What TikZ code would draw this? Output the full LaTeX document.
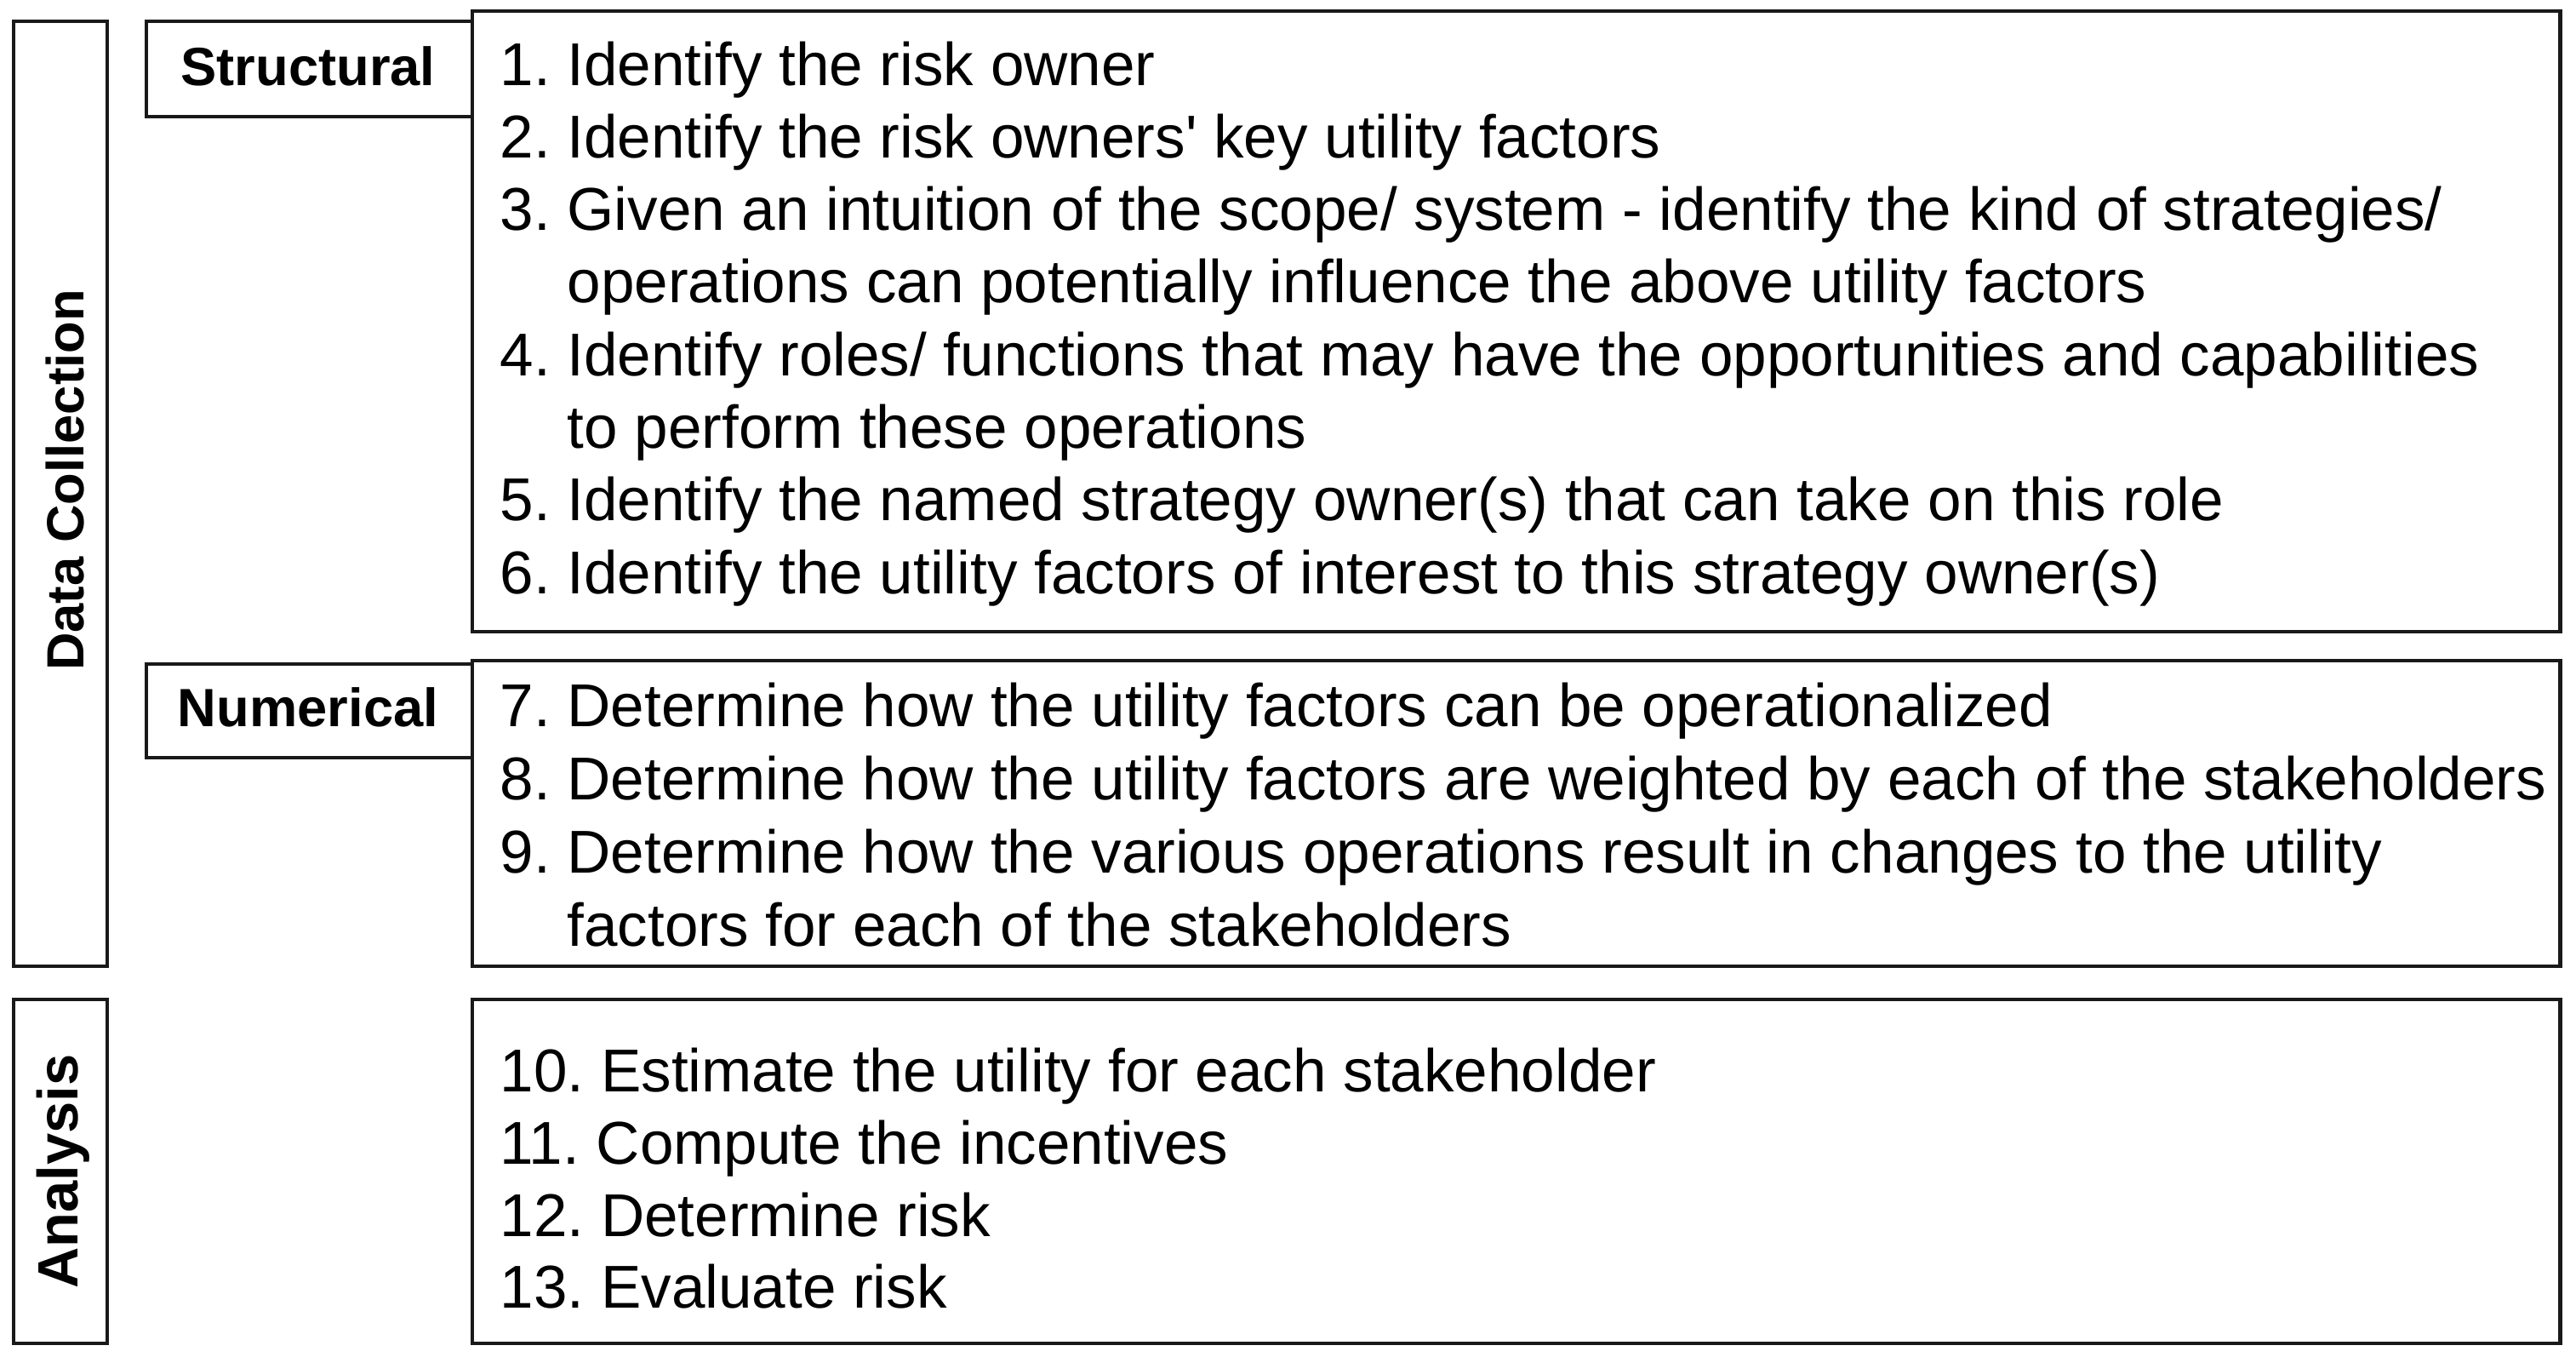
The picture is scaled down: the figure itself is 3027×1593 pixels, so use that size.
\documentclass[tikz,border=0pt]{standalone}
\usepackage{fontspec}
\setmainfont{Liberation Sans}
\frenchspacing

\def\numx{587}
\newcommand{\panel}[5]{\node[panel, minimum width={(#4-#2)*0.01cm}, minimum height={(#5-#3)*0.01cm}] (#1) at (#2,#3) {};}
\newcommand{\stepline}[3]{\node[steptext] (#1) at (\numx,#2) {#3};}

\tikzset{
  panel/.style={draw=black!90, line width=1.4pt, anchor=north west, inner sep=0pt, outer sep=0pt},
  steptext/.style={anchor=base west, inner sep=0pt, font=\fontsize{20.2pt}{24pt}\selectfont},
  tag/.style={anchor=base, inner sep=0pt, font=\fontsize{18pt}{22pt}\selectfont\bfseries},
}

\begin{document}
\begin{tikzpicture}[x=0.01cm, y=-0.01cm]
    \useasboundingbox (0,0) rectangle (3027,1593);

    % frames
    \panel{dc}{16}{25}{126}{1135}
    \panel{an}{16}{1174}{126}{1578}
    \panel{st}{172}{25}{555}{137}
    \panel{nu}{172}{780}{555}{890}
    \panel{b1}{555}{13}{3008}{742}
    \panel{b2}{555}{776}{3008}{1135}
    \panel{b3}{555}{1174}{3008}{1578}

    % labels
    \node[tag, rotate=90, font=\fontsize{17.5pt}{22pt}\selectfont\bfseries] (dclabel) at (98,564) {Data Collection};
    \node[tag, rotate=90, font=\fontsize{19pt}{22pt}\selectfont\bfseries] (anlabel) at (91,1376) {Analysis};
    \node[tag] (stlabel) at (362,100) {Structural};
    \node[tag] (nulabel) at (362,853) {Numerical};

    % structural steps
    \stepline{s1}{100}{1. Identify the risk owner}
    \stepline{s2}{185.3}{2. Identify the risk owners\textquotesingle{} key utility factors}
    \stepline{s3}{270.6}{3. Given an intuition of the scope/ system - identify the kind of strategies/}
    \stepline{s3b}{355.9}{\phantom{3. }operations can potentially influence the above utility factors}
    \stepline{s4}{441.2}{4. Identify roles/ functions that may have the opportunities and capabilities}
    \stepline{s4b}{526.5}{\phantom{4. }to perform these operations}
    \stepline{s5}{611.8}{5. Identify the named strategy owner(s) that can take on this role}
    \stepline{s6}{697.1}{6. Identify the utility factors of interest to this strategy owner(s)}

    % numerical steps
    \stepline{s7}{853}{7. Determine how the utility factors can be operationalized}
    \stepline{s8}{939}{8. Determine how the utility factors are weighted by each of the stakeholders}
    \stepline{s9}{1025}{9. Determine how the various operations result in changes to the utility}
    \stepline{s9b}{1111}{\phantom{9. }factors for each of the stakeholders}

    % analysis steps
    \stepline{s10}{1282}{10. Estimate the utility for each stakeholder}
    \stepline{s11}{1367}{11. Compute the incentives}
    \stepline{s12}{1452}{12. Determine risk}
    \stepline{s13}{1536}{13. Evaluate risk}
\end{tikzpicture}
\end{document}
